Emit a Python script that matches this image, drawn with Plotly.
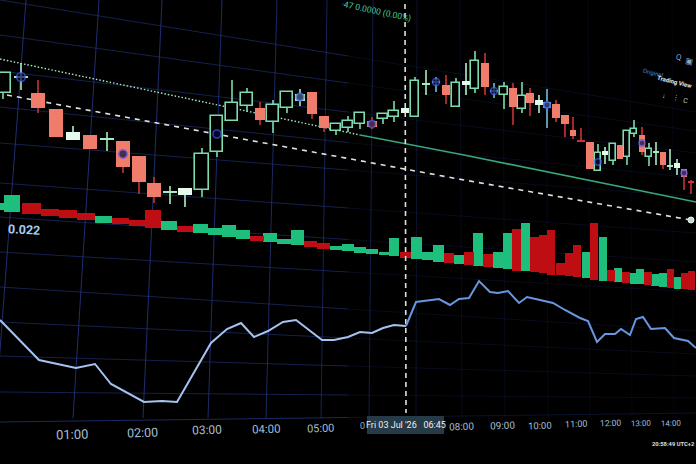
import numpy as np
import plotly.graph_objects as go

# ---------- candles (chart y units grow downward) ----------
candle_x = [3,21,38,56,73,90,107,123,139,154,170,185,202,217,232,247,260,273,287,300,312,324,336,348,360,372,383,394,405,415,426,436,446,456,466,475,485,494,504,513,522,530,539,547,556,565,573,581,590,598,605,613,620,627,634,642,649,656,663,670,677,684,691]
body_top = [73,76,93,109,132,135,138,141,156,183,191,188,154,116,103,93,108,105,92,94,92,116,124,121,113,121,114,111,108,81,83,81,85,83,81,61,63,90,87,88,96,93,100,102,104,115,130,140,142,153,151,144,145,131,129,135,149,151,152,165,163,169,181]
body_bot = [93,78,108,137,140,149,139.5,167,182,197,192.5,195,190,152,121,106,120,122,108,101,114,128,131,128,124,127,119,117,113,117,84.5,83,95,107,85,89,87,92,95,107,109,103,105,108,118,124,136,142,169,171,155,161,159,157,134,152,157,152.5,165,166.5,168,177,182.5]
wick_hi = [73,63,80,109,126,135,132,141,156,177,186,188,148,116,80,88,102,100,92,89,92,116,124,116,113,117,114,101,108,77,70,77,75,78,63,51,53,83,82,83,82,88,95,89,100,115,117,128,142,144,147,144,145,131,120,127,143,142,152,149,159,169,180]
wick_lo = [99,90,113,137,140,149,151,173,194,203,204,207,197,157,121,112,125,133,113,106,119,132,135,132,129,129,124,122,113,117,95,92,104,107,95,93,95,98,109,125,113,116,113,128,122,137,139,142,169,171,164,165,159,165,137,155,166,165,169,170,175,190,194]
candle_kind = list("hgrrwrgrrrgwhhhhrhhgrrhhhrhhwhgbrhwhrbhrhrwbrrrxrhwhrhhrhgrgwrx")

marker_x = [21,123,217,300,372,436,494,547,598,642,684]
marker_y = [77,154,134,97,124,82,91,105,162,143,173]

# ---------- volume ----------
vol_x = [-1,12,31,50,68,86,103,120,137,153,169,185,200,215,229,243,257,270,284,297,310,323,336,348,360,372,384,394,405,416,427,438,449,459,469,478,488,498,507,516,525,534,543,551,560,569,577,586,594,603,611,618,626,633,640,648,655,663,670,677,684,691]
vol_top = [203,195,203,209,210,213,216,218,220,210,221,226,224,228,225,230,236,233,239,230,241,243,246,244,247,249,252,238,252,237,252,245,253,255,252,233,254,252,233,229,223,237,235,230,263,253,245,252,223,237,270,268,272,273,269,272,274,273,269,277,273,271]
vol_bot = [210,212,214,216,218,220,223,224,226,228,230,232,233,235,237,239,241,242,244,245,247,249,250,251,253,254,255,256,258,259,260,262,263,264,265,266,267,268,269,271,271,272,273,275,275,276,277,278,280,281,281,282,283,284,284,285,286,287,288,289,289,290]
vol_up = [1,1,0,0,0,0,1,0,0,0,1,0,1,1,1,1,0,1,1,1,0,0,1,1,1,1,1,1,0,1,1,1,0,1,0,1,0,1,1,0,1,0,0,0,0,0,0,1,0,1,0,1,0,1,1,0,1,1,0,1,0,0]

# ---------- lower indicator ----------
line_x = [0,2,39,76,95,111,127,144,162,177,211,227,241,254,268,283,296,322,334,348,360,372,383,394,406,416,439,450,459,469,479,490,498,508,519,527,540,553,565,580,588,597,605,615,621,630,636,643,651,665,674,688,696]
line_y = [320,322,360,368,364,384,393,402,401,402,343,329,323,337,331,322,320,340,340,337,332,333,328,325,326,302,299,305,299,298,281,292,293,291,303,297,300,303,310,318,321,342,334,334,329,335,319,317,329,328,338,341,348]

# ---------- screen grid and drawn lines ----------
grid_v_top = [26,99,162,222,277,327,373,417,460,503,546,588,630,672]
grid_v_bottom = [-5,73,143,208,266,321,369,416,462,505,548,590,632,674]
grid_v_alpha = [.8,.8,.8,.75,.7,.6,.5,.3,.2,.18,.16,.14,.12,.1]
grid_h_left = [0,35,71,107,143,183,217,252,287,322,356,392]
grid_h_right = [112,131,153,178,197,233,262,292,331,354,376,398]
axis_left, axis_right = 422, 413

dash_x = [7,232,464,691]
dash_y = [95,137,180,220]
green_dot_x = [0,232,360]
green_dot_y = [59,108,135]
green_solid_x = [360,464,696]
green_solid_y = [135,155,202]
cross_x = [405,406]
cross_y = [4,413]

# ---------- texts ----------
tick_labels = ["01:00","02:00","03:00","04:00","05:00","08:00","09:00","10:00","11:00","12:00","13:00","14:00"]
tick_x = [72,142,207,266,320,461,502,540,576,610,641,671]
tick_y = [434,432,430,429,428,426,425,425,424,423,423,423]
tick_size = [13,12.5,12,11.5,11,10,10,9.5,9,8.5,8,8]

fig = go.Figure()

def lines(xs, ys, color, width, dash="solid"):
    fig.add_trace(go.Scatter(x=xs, y=ys, mode="lines", hoverinfo="skip",
                             line=dict(color=color, width=width, dash=dash)))

def under(xs, ys, color, width, dash="solid"):
    """A line drawn behind every bar, so bodies and volume cover it."""
    path = "M " + " L ".join(f"{a} {b}" for a, b in zip(xs, ys))
    fig.add_shape(type="path", path=path, layer="below", xref="x", yref="y",
                  line=dict(color=color, width=width, dash=dash))

# grid
for t, b, a in zip(grid_v_top, grid_v_bottom, grid_v_alpha):
    under([t, b], [0, 418], f"rgba(38,58,140,{a})", 1)
for l, r in zip(grid_h_left, grid_h_right):
    under([0, 348], [l, (l + r) / 2], "rgba(38,58,140,0.55)", 1)
    under([348, 696], [(l + r) / 2, r], "rgba(38,58,140,0.2)", 1)
under([0, 348], [axis_left, (axis_left + axis_right) / 2], "rgba(38,58,140,0.7)", 1)
under([348, 696], [(axis_left + axis_right) / 2, axis_right], "rgba(38,58,140,0.3)", 1)

# drawn lines
under(green_dot_x, green_dot_y, "rgb(165,235,190)", 1.4, "1.5px,2px")
under(green_solid_x, green_solid_y, "rgb(55,165,125)", 1.6)
under(dash_x, dash_y, "rgb(225,225,225)", 1.6, "5px,5px")

# volume bars
vx = np.array(vol_x, float)
vw = np.gradient(vx) * 1.0
vt = np.array(vol_top, float)
vb = np.array(vol_bot, float)
vu = np.array(vol_up, bool)
for mask, col in ((vu, "rgb(30,190,125)"), (~vu, "rgb(190,14,20)")):
    fig.add_trace(go.Bar(x=vx[mask], y=(vb - vt)[mask], base=vt[mask], width=vw[mask],
                         marker=dict(color=col, line_width=0), hoverinfo="skip"))

# candles
cx = np.array(candle_x, float)
cw = np.gradient(cx) * 0.84
bt = np.array(body_top, float)
bb = np.array(body_bot, float)
wh = np.array(wick_hi, float)
wl = np.array(wick_lo, float)
kinds = np.array(candle_kind)
styles = {
    "h": ("rgb(125,220,175)", "rgb(0,0,0)", "rgb(125,220,175)", 1.6),
    "g": ("rgb(165,235,195)", "rgb(165,235,195)", "rgb(165,235,195)", 0),
    "b": ("rgb(110,190,215)", "rgb(110,190,215)", "rgb(110,190,215)", 0),
    "r": ("rgb(205,50,50)", "rgb(240,125,108)", "rgb(240,125,108)", 0),
    "x": ("rgb(205,50,50)", "rgb(205,50,50)", "rgb(205,50,50)", 0),
    "w": ("rgb(180,240,205)", "rgb(228,250,236)", "rgb(228,250,236)", 0),
}
for k, (wc, fill, edge, lw) in styles.items():
    m = kinds == k
    wx, wy = [], []
    for a, h, t, b, l in zip(cx[m], wh[m], bt[m], bb[m], wl[m]):
        wx += [a, a, None, a, a, None]
        wy += [h, t, None, b, l, None]
    lines(wx, wy, wc, 1.6)
    fig.add_trace(go.Bar(x=cx[m], y=(bb - bt)[m], base=bt[m], width=cw[m],
                         marker=dict(color=fill, line=dict(color=edge, width=lw)),
                         hoverinfo="skip"))

# blue event markers on candles
mx = np.array(marker_x); my = np.array(marker_y)
sizes = np.interp(mx, [0, 696], [9, 6])
fig.add_trace(go.Scatter(x=mx, y=my, mode="markers", hoverinfo="skip",
                         marker=dict(size=sizes, color="rgb(8,10,60)",
                                     line=dict(color="rgb(70,90,245)", width=1.6))))
fig.add_trace(go.Scatter(x=[dash_x[-1]], y=[dash_y[-1]], mode="markers", hoverinfo="skip",
                         marker=dict(size=6, color="rgb(190,215,215)",
                                     line=dict(color="rgb(235,240,240)", width=1))))

# crosshair, above the volume bars
lines(cross_x, cross_y, "rgb(225,225,215)", 1.6, "5px,4px")

# indicator line
split = line_x.index(406)
lines(line_x[:split + 1], line_y[:split + 1], "rgb(165,195,240)", 2)
lines(line_x[split:], line_y[split:], "rgb(105,150,225)", 2)

# time label box
fig.add_shape(type="rect", x0=367, x1=444, y0=416, y1=434, layer="above",
              fillcolor="rgb(38,58,72)", line_width=0)

def note(x, y, text, size, color, angle=0, family="Roboto"):
    fig.add_annotation(x=x, y=y, text=text, showarrow=False, textangle=angle,
                       font=dict(size=size, color=color, family=family))

for lab, x, y, s in zip(tick_labels, tick_x, tick_y, tick_size):
    note(x, y, lab, s, "rgb(165,190,210)", -2)
note(362, 426, "0", 9, "rgb(150,175,195)")
note(405.5, 425, "Fri 03 Jul '26   06:45", 9, "rgb(235,240,240)")
note(24, 229, "<b>0.022</b>", 12.5, "rgb(165,205,240)", 3)
note(376, 11, "·47 0.0000 (0.00%)", 8.5, "rgb(70,205,150)", 12)
note(653, 72, "Original", 6, "rgb(60,140,220)", 14)
note(675, 81, "<b>Trading View</b>", 6, "rgb(230,235,235)", 14)
note(673, 444, "<b>20:58:49 UTC+2</b>", 5.8, "rgb(215,225,225)")

# toolbar buttons, top right
for x, y, g, s in [(679, 57, "Q", 8), (690, 61, "▣", 8), (664, 96, "↓", 7), (675, 98, "⋮", 7), (685, 101, "C", 7)]:
    note(x, y, g, s, "rgb(130,170,215)" if y < 70 else "rgb(200,210,215)", 12)

fig.update_layout(
    width=696, height=464, margin=dict(l=0, r=0, t=0, b=0),
    paper_bgcolor="black", plot_bgcolor="black",
    showlegend=False, barmode="overlay", bargap=0,
    xaxis=dict(range=[0, 696], visible=False, fixedrange=True),
    yaxis=dict(range=[464, 0], visible=False, fixedrange=True),
)
fig.write_html("out.html", config={"displayModeBar": False},
               post_script="document.body.style.margin='0';document.body.style.background='black';document.body.style.overflow='hidden';")
